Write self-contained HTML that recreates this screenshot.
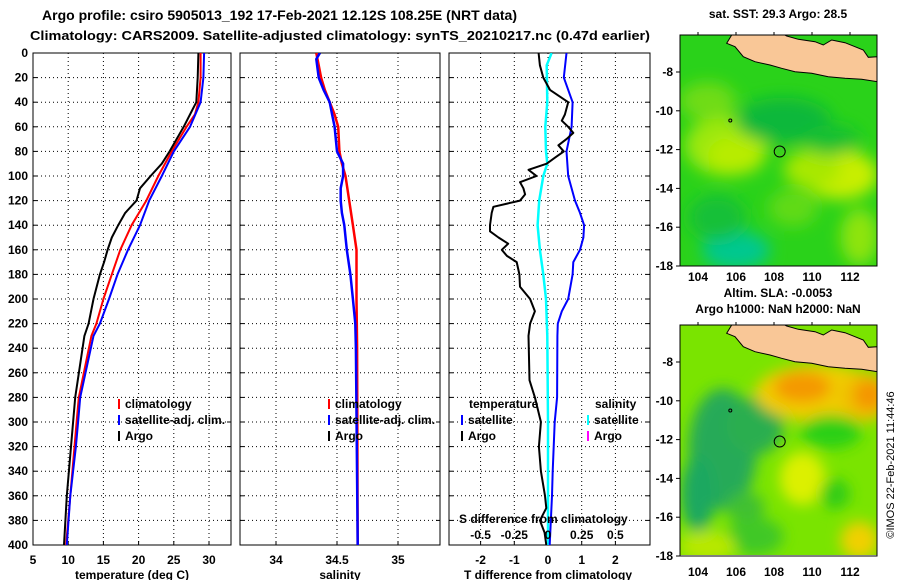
<!DOCTYPE html>
<html><head><meta charset="utf-8"><style>
body{margin:0;background:#fff;}
svg{display:block;font-family:"Liberation Sans",Arial,sans-serif;font-weight:bold;}
</style></head><body>
<svg id="fig" width="900" height="580" viewBox="0 0 900 580" xmlns="http://www.w3.org/2000/svg">
<defs>
<filter id="blur1" x="-50%" y="-50%" width="200%" height="200%"><feGaussianBlur stdDeviation="8"/></filter>
<filter id="blur2" x="-50%" y="-50%" width="200%" height="200%"><feGaussianBlur stdDeviation="7"/></filter>
<clipPath id="clipm1"><rect x="680" y="35" width="197" height="231"/></clipPath>
<clipPath id="clipm2"><rect x="680" y="325" width="197" height="230"/></clipPath>
<clipPath id="clipp1"><rect x="33" y="53" width="198" height="492"/></clipPath>
<clipPath id="clipp2"><rect x="240" y="53" width="200" height="492"/></clipPath>
<clipPath id="clipp3"><rect x="449" y="53" width="201" height="492"/></clipPath>
</defs>
<text x="42" y="20" font-size="14" textLength="475" lengthAdjust="spacingAndGlyphs">Argo profile: csiro 5905013_192 17-Feb-2021 12.12S 108.25E (NRT data)</text>
<text x="340" y="40" text-anchor="middle" font-size="13" textLength="620" lengthAdjust="spacingAndGlyphs">Climatology: CARS2009. Satellite-adjusted climatology: synTS_20210217.nc (0.47d earlier)</text>
<g id="panels"></g>
<g id="maps"></g>
<text x="0" y="0" transform="translate(894,465) rotate(-90)" text-anchor="middle" font-size="11" font-weight="normal">©IMOS 22-Feb-2021 11:44:46</text>
</svg>
<script>
// ---- data ----
const depthTicks = [0,20,40,60,80,100,120,140,160,180,200,220,240,260,280,300,320,340,360,380,400];
const tTicks = [5,10,15,20,25,30];
const sTicks = [34,34.5,35];
const dTTicks = [-2,-1,0,1,2];
const dSTickLabels = [-0.5,-0.25,0,0.25,0.5];

const argoTDepth = [0,20,40,50,60,70,80,90,100,110,120,130,140,150,160,170,180,200,220,230,280,300,320,340,360,380,400];
const argoTemp   = [28.5,28.4,28.2,27.3,26.4,25.4,24.4,23.3,21.7,20.2,19.7,18.1,17.1,16.2,15.6,15.1,14.5,13.6,12.9,12.3,11.0,10.7,10.4,10.1,9.8,9.6,9.4];
const climTDepth = [0,20,40,50,60,80,100,120,140,160,180,200,220,230,280,300,320,340,360,400];
const climTemp   = [28.8,28.8,28.5,28.0,26.8,24.7,22.8,21.1,19.0,17.4,16.2,15.0,14.0,13.3,11.5,11.2,10.9,10.6,10.3,9.7];
const satTDepth  = [0,20,40,60,80,100,120,140,160,180,200,220,230,280,300,320,340,360,400];
const satTemp    = [29.3,29.2,28.8,27.3,25.0,23.3,21.5,20.2,18.5,17.0,15.8,14.5,13.6,11.7,11.4,11.1,10.7,10.3,9.8];

const climSDepth = [0,10,20,30,40,50,60,80,90,100,120,140,160,200,240,400];
const climSal    = [34.33,34.35,34.37,34.40,34.44,34.48,34.51,34.52,34.54,34.57,34.60,34.63,34.66,34.66,34.665,34.67];
const satSDepth  = [0,5,20,30,40,50,60,80,90,100,110,120,130,140,160,180,200,220,240,400];
const satSal     = [34.36,34.33,34.35,34.39,34.44,34.46,34.48,34.50,34.55,34.55,34.53,34.53,34.54,34.56,34.58,34.61,34.63,34.65,34.655,34.67];

const argoDTDepth = [0,10,20,30,40,50,55,60,65,70,75,80,85,90,95,100,105,110,115,120,125,130,140,145,150,155,160,165,170,180,190,200,210,220,230,266,280,300,320,340,360,370,380,390,400];
const argoDT      = [-0.28,-0.24,-0.14,0.06,0.6,0.5,0.41,0.6,0.75,0.55,0.31,0.47,0.21,-0.04,-0.58,-0.34,-0.83,-0.73,-0.68,-0.83,-1.62,-1.67,-1.72,-1.72,-1.47,-1.18,-1.37,-1.22,-0.93,-0.85,-0.83,-0.53,-0.39,-0.53,-0.58,-0.55,-0.39,-0.21,-0.27,-0.21,-0.09,-0.05,-0.24,-0.1,-0.05];
const satDTDepth  = [0,20,40,60,80,100,120,130,140,150,160,170,180,200,210,220,230,280,300,340,360,400];
const satDT       = [0.55,0.47,0.73,0.70,0.55,0.6,0.80,0.95,1.07,1.05,0.95,0.75,0.73,0.6,0.41,0.29,0.28,0.27,0.2,0.14,0.12,0.05];
const satDSDepth  = [0,10,40,60,80,90,100,120,140,160,180,200,230,300,400];
const satDS       = [0.027,-0.01,-0.005,-0.02,-0.015,-0.005,-0.035,-0.065,-0.077,-0.06,-0.035,-0.015,-0.005,0,0];

const lonTicks = [104,106,108,110,112];
const latTicks = [-8,-10,-12,-14,-16,-18];
const argoLon = 108.3, argoLat = -12.1;

// ---- axes ----
const NS="http://www.w3.org/2000/svg";
const yD = d => 53 + d*1.23;
const xT = t => 33 + (t-5)*7.04;
const xS = s => 276 + (s-34)*122;
const xDT = v => 548 + v*33.7;
const xDS = v => 548 + v*134.8;
function mk(tag, attrs, parent, txt){
  const e=document.createElementNS(NS,tag);
  for(const k in attrs) e.setAttribute(k,attrs[k]);
  if(txt!==undefined) e.textContent=txt;
  parent.appendChild(e); return e;
}
const panels=document.getElementById('panels');

function panel(id,x0,x1,gridX,fx,labels,title,titleX){
  const g=mk('g',{},panels);
  
  
  depthTicks.forEach(d=>{
    if(d>0&&d<400){
      const l=mk('line',{x1:x0,x2:x1,y1:yD(d),y2:yD(d),stroke:'#000','stroke-width':1,'stroke-dasharray':'1,3'},g);
      
      
    }
    mk('line',{x1:x0,x2:x0+4,y1:yD(d),y2:yD(d),stroke:'#000'},g);
    mk('line',{x1:x1-4,x2:x1,y1:yD(d),y2:yD(d),stroke:'#000'},g);
  });
  gridX.forEach(v=>{
    const x=fx(v);
    if(x>x0+1&&x<x1-1){
      const l=mk('line',{x1:x,x2:x,y1:53,y2:545,stroke:'#000','stroke-width':1,'stroke-dasharray':'1,3'},g);
      
      
    }
    mk('line',{x1:x,x2:x,y1:541,y2:545,stroke:'#000'},g);
  });
  labels.forEach(v=>{
    const t=mk('text',{x:fx(v),y:564,'text-anchor':'middle','font-size':12},g,String(v));
    
    
  });
  const tt=mk('text',{x:titleX,y:579,'text-anchor':'middle','font-size':12},g,title);
  
  
  const fr=mk('rect',{x:x0,y:53,width:x1-x0,height:492,fill:'none',stroke:'#000','stroke-width':1},g);
  
  
  return g;
}
function line(g,depths,vals,fx,color,clip,name,w){
  const pts=depths.map((d,i)=>fx(vals[i]).toFixed(1)+','+yD(d).toFixed(1)).join(' ');
  const p=mk('polyline',{points:pts,fill:'none',stroke:color,'stroke-width':w||2,'clip-path':'url(#'+clip+')','stroke-linejoin':'round'},g);
  
  
}
function legend(g,x,y,color,text){
  mk('line',{x1:x,x2:x,y1:y-9,y2:y+1,stroke:color,'stroke-width':2},g);
  const t=mk('text',{x:x+6,y:y,'font-size':12},g,text);
  
  
}

depthTicks.forEach(d=>{
  const t=mk('text',{x:28,y:yD(d)+4,'text-anchor':'end','font-size':12},panels,String(d));
  
  
});

const g1=panel('temperature-panel',33,231,tTicks,xT,tTicks,'temperature (deg C)',132);
line(g1,climTDepth,climTemp,xT,'#f00','clipp1','climatology-temperature-line');
line(g1,satTDepth,satTemp,xT,'#00f','clipp1','satellite-temperature-line');
line(g1,argoTDepth,argoTemp,xT,'#000','clipp1','argo-temperature-line');
legend(g1,119,408,'#f00','climatology');
legend(g1,119,424,'#00f','satellite-adj. clim.');
legend(g1,119,440,'#000','Argo');

const g2=panel('salinity-panel',240,440,sTicks,xS,sTicks,'salinity',340);
line(g2,climSDepth,climSal,xS,'#f00','clipp2','climatology-salinity-line',2.5);
line(g2,satSDepth,satSal,xS,'#00f','clipp2','satellite-salinity-line',2.5);
legend(g2,329,408,'#f00','climatology');
legend(g2,329,424,'#00f','satellite-adj. clim.');
legend(g2,329,440,'#000','Argo');

const g3=panel('difference-panel',449,650,dTTicks,xDT,dTTicks,'T difference from climatology',548);
line(g3,satDSDepth,satDS,xDS,'#0ff','clipp3','satellite-salinity-diff-line',2.5);
line(g3,satDTDepth,satDT,xDT,'#00f','clipp3','satellite-temperature-diff-line');
line(g3,argoDTDepth,argoDT,xDT,'#000','clipp3','argo-temperature-diff-line');
mk('text',{x:469,y:408,'font-size':12},g3,'temperature');
mk('text',{x:595,y:408,'font-size':12},g3,'salinity');
legend(g3,462,424,'#00f','satellite');
legend(g3,462,440,'#000','Argo');
legend(g3,588,424,'#0ff','satellite');
legend(g3,588,440,'#f0f','Argo');
mk('text',{x:459,y:523,'font-size':12},g3,'S difference from climatology');
dSTickLabels.forEach(v=>{
  const t=mk('text',{x:xDS(v),y:539,'text-anchor':'middle','font-size':12},g3,String(v));
  
  
});

// ---- maps ----
const maps=document.getElementById('maps');
const mX = lon => 698 + (lon-104)*19;
function map(id,top,y8,clip,baseColor,blobs,blurId,title1,title2,t1y,t2y,lonY){
  const g=mk('g',{},maps);
  
  
  const mY = lat => y8 + (-8-lat)*19.4;
  const gc=mk('g',{'clip-path':'url(#'+clip+')'},g);
  mk('rect',{x:680,y:top,width:197,height:231,fill:baseColor},gc);
  const gb=mk('g',{filter:'url(#'+blurId+')'},gc);
  blobs.forEach(b=>mk('ellipse',{cx:mX(b[0]),cy:mY(b[1]),rx:b[2]*19,ry:b[3]*19,fill:b[4]},gb));
  const land=[[230,105],[215,130],[240,140],[265,170],[300,185],[345,195],[380,205],[420,215],[470,220],[520,230],[570,235],[620,238],[667,245],[667,170],[640,172],[625,150],[600,140],[570,128],[530,120],[505,135],[480,125],[430,118],[395,108],[380,100]];
  const pts=land.map(p=>(655+p[0]/3).toFixed(1)+','+(top-35+p[1]/3).toFixed(1)).join(' ');
  const l=mk('polygon',{points:pts,fill:'#f9c797',stroke:'#000','stroke-width':1},gc);
  
  
  const fr=mk('rect',{x:680,y:top,width:197,height:231,fill:'none',stroke:'#000'},g);
  
  
  mk('circle',{cx:mX(105.7),cy:mY(-10.5),r:1.5,fill:'none',stroke:'#000'},g);
  const c=mk('circle',{cx:mX(argoLon),cy:mY(argoLat),r:5.5,fill:'none',stroke:'#000','stroke-width':1},g);
  
  
  latTicks.forEach(v=>{
    mk('line',{x1:676,x2:680,y1:mY(v),y2:mY(v),stroke:'#000'},g);
    const t=mk('text',{x:673,y:mY(v)+4,'text-anchor':'end','font-size':12},g,String(v));
    
    
  });
  lonTicks.forEach(v=>{
    mk('line',{x1:mX(v),x2:mX(v),y1:top,y2:top-3,stroke:'#000'},g);
    const t=mk('text',{x:mX(v),y:lonY,'text-anchor':'middle','font-size':12},g,String(v));
    
    
  });
  if(title1){const t=mk('text',{x:778,y:t1y,'text-anchor':'middle','font-size':12},g,title1);}
  if(title2){const t=mk('text',{x:778,y:t2y,'text-anchor':'middle','font-size':12},g,title2);}
}
map('sst-map',35,72,'clipm1','#2ad21a',[
  [105.5,-11.8,2.2,1.6,'#9be80a'],[106,-12.3,1.5,1,'#b8ec04'],
  [111.5,-13.3,2,1.3,'#c8ee00'],[110,-13,1.5,1,'#a8e806'],
  [108.5,-10.5,2.5,1.2,'#10b83a'],[111,-11.5,1.5,0.8,'#18c030'],
  [106,-17.2,1.8,1,'#06c890'],[105,-15.5,1.5,1.2,'#18c038'],
  [112.5,-16.5,1,1.5,'#8ee410'],[109,-15,1.3,1,'#60da18'],[104.5,-9.5,1.5,1,'#70dc12']
],'blur1','sat. SST: 29.3 Argo: 28.5',null,18,0,281);
map('sla-map',325,362,'clipm2','#7ae400',[
  [105.3,-12.5,1.8,3.2,'#26aa58'],[104,-14.8,0.9,2,'#1ea860'],[107,-11.3,1.5,1.5,'#2aae50'],[106.5,-15.5,1,0.8,'#40c030'],
  [110.3,-9.6,3.3,1.5,'#f0cc00'],[112.8,-9.8,1.3,1.3,'#f0c000'],
  [109.5,-9.3,1.5,0.8,'#f49800'],[113,-9.7,0.8,0.8,'#f49400'],
  [109.5,-14,1.2,1.4,'#dcf000'],[112.5,-17.2,1,1,'#f0d000'],[111,-11.6,1.6,0.9,'#2cd012'],
  [107,-17,1.5,1,'#40c828'],[104.5,-17.5,1.5,0.8,'#b8e800'],[111.2,-14.8,0.8,0.8,'#30cc18']
],'blur2','Altim. SLA: -0.0053','Argo h1000: NaN h2000: NaN',297,313,576);
</script>
</body></html>
